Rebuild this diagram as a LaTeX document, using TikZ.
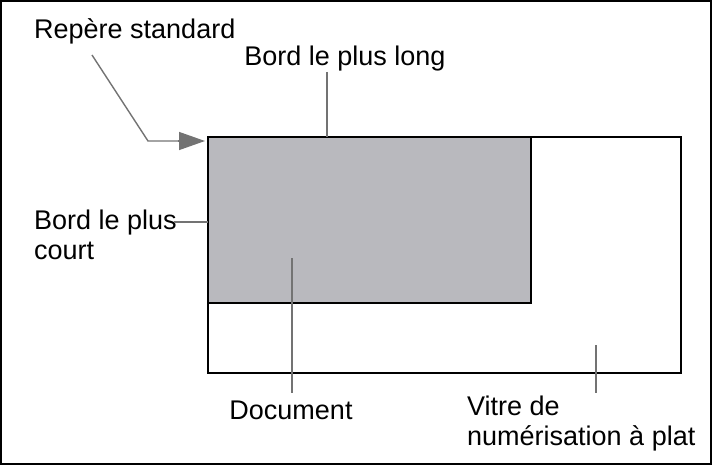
\documentclass[tikz,border=0pt]{standalone}
\usepackage{fontspec}
\setmainfont{Liberation Sans}
\usetikzlibrary{arrows.meta}
\tikzset{lbl/.style={inner sep=1pt, align=left, font=\fontsize{27}{30}\selectfont},
  lead/.style={draw=black!55, line width=1.4pt}}
\begin{document}
\begin{tikzpicture}[x=1pt,y=-1pt]
\draw[line width=1.2pt] (1,1) rectangle (711,464);
\useasboundingbox (0,0) rectangle (712,465);
% glass and document
\draw[line width=1.4pt] (208,137) rectangle (681,373);
\draw[line width=1.4pt, fill={rgb,255:red,185;green,185;blue,190}] (208,137) rectangle (531,303);
% labels
\node[lbl, anchor=west] (mark) at (33,31) {Repère standard};
\node[lbl] (long) at (345,59) {Bord le plus long};
\node[lbl, anchor=west] (short) at (33,235) {Bord le plus\\court};
\node[lbl] (doc) at (291,410) {Document};
\node[lbl, anchor=west] (glass) at (466,424) {Vitre de\\numérisation à plat};
\coordinate (bend) at (148,141);
\draw[lead] (92,55) -- (bend) -- (180,141);
\draw[lead, -{Triangle[length=26pt,width=18pt]}, fill=black!55] (178,141) -- (205,141);
\draw[lead] (327,72) -- (327,137);
\draw[lead] (174,222) -- (208,222);
\draw[lead] (292,258) -- (292,393);
\draw[lead] (596,345) -- (596,393);
\end{tikzpicture}
\end{document}
